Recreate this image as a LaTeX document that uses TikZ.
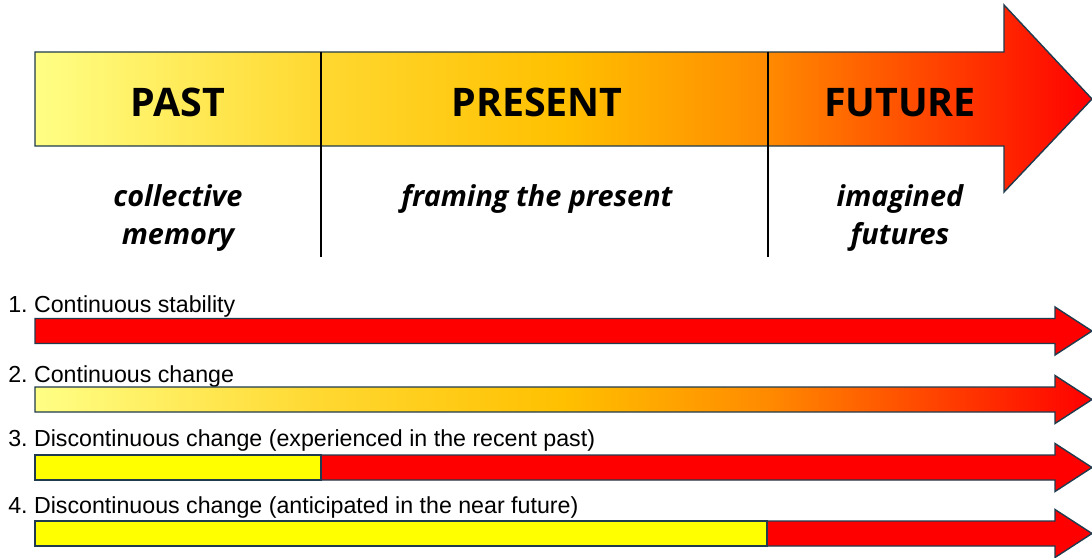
\documentclass[tikz,border=0pt]{standalone}
\usepackage{fontspec}
\setmainfont{Liberation Sans}
\newfontfamily\headfont{Open Sans}
\usetikzlibrary{positioning}
\frenchspacing
\definecolor{pastyellow}{HTML}{FFFF85}
\definecolor{midyellow}{HTML}{FFD830}
\definecolor{goldtone}{HTML}{FFC000}
\definecolor{futureorange}{HTML}{FF8A00}
\definecolor{futurered}{HTML}{FF0000}
\definecolor{plainyellow}{HTML}{FFFF00}
\definecolor{edgeblue}{HTML}{1F3B4D}
\pgfdeclarehorizontalshading{timeline}{100bp}{color(0bp)=(pastyellow); color(25bp)=(pastyellow);
  color(38.5bp)=(midyellow); color(50bp)=(goldtone); color(59.7bp)=(futureorange);
  color(75bp)=(futurered); color(100bp)=(futurered)}
% one flat arrow of a scenario row: start x, centre y, style
\newcommand{\rowarrow}[3]{\path[#3] (#1,#2-12.5) -- (1055,#2-12.5) -- (1055,#2-24) -- (1092,#2)
  -- (1055,#2+24) -- (1055,#2+12.5) -- (#1,#2+12.5) -- cycle;}

\begin{document}
\begin{tikzpicture}[x=0.025cm,y=-0.025cm,
    outline/.style={draw=edgeblue,line width=1pt,line join=miter},
    divider/.style={draw=black,line width=0.9pt},
    period/.style={font=\headfont\bfseries\fontsize{28}{30}\selectfont,anchor=base},
    framing/.style={font=\headfont\bfseries\itshape\fontsize{20.5}{27}\selectfont,align=center},
    scenario/.style={font=\fontsize{16.5}{18}\selectfont,anchor=base west,inner sep=0pt}]
    \useasboundingbox (0,0) rectangle (1092,558);
    % time arrow
    \path[outline,shading=timeline] (35,52) -- (1004,52) -- (1004,5) -- (1092,99) -- (1004,192)
      -- (1004,146) -- (35,146) -- cycle;
    \draw[divider] (321,52) -- (321,257);
    \draw[divider] (768,52) -- (768,257);
    \node[period] (past) at (178,116) {PAST};
    \node[period] (present) at (537,116) {PRESENT};
    \node[period] (future) at (900,116) {FUTURE};
    \node[framing] (memory) at (178,218) {collective\\memory};
    \node[framing] (frame) at (537,199) {framing the present};
    \node[framing] (imagined) at (900,218) {imagined\\futures};
    % scenarios
    \node[scenario] (s1) at (8,312) {1. Continuous stability};
    \rowarrow{35}{331}{outline,fill=futurered}
    \node[scenario] (s2) at (8,382) {2. Continuous change};
    \rowarrow{35}{399.5}{outline,shading=timeline}
    \node[scenario] (s3) at (8,446) {3. Discontinuous change (experienced in the recent past)};
    \rowarrow{321}{467.5}{outline,fill=futurered}
    \draw[outline,fill=plainyellow] (35,455) rectangle (321,480);
    \node[scenario] (s4) at (8,513) {4. Discontinuous change (anticipated in the near future)};
    \rowarrow{767}{533.5}{outline,fill=futurered}
    \draw[outline,fill=plainyellow] (35,521) rectangle (767,546);
\end{tikzpicture}
\end{document}
